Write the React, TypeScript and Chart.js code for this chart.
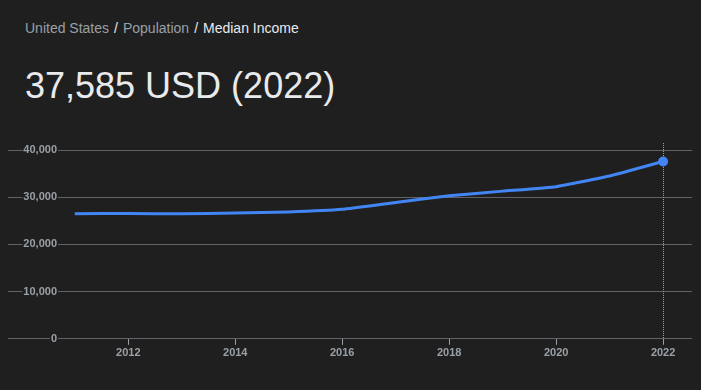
import React, { useEffect, useRef } from "react";
import { Chart, registerables } from "chart.js";

Chart.register(...registerables);

const years = [2011, 2012, 2013, 2014, 2015, 2016, 2017, 2018, 2019, 2020, 2021, 2022];
const medianIncome = [26530, 26560, 26500, 26680, 26900, 27450, 28900, 30300, 31300, 32250, 34500, 37585];
const yTicks = [0, 10000, 20000, 30000, 40000];
const xTicks = [2012, 2014, 2016, 2018, 2020, 2022];
const breadcrumb = ["United States", "Population", "Median Income"];
const headline = "37,585 USD (2022)";

const BG = "#1f1f1f";
const GRID = "#5f6368";
const LABEL = "#9aa0a6";
const BLUE = "#4285f4";

const markerLine = {
  id: "markerLine",
  beforeDatasetsDraw(chart: any) {
    const { ctx, chartArea, scales } = chart;
    const x = Math.round(scales.x.getPixelForValue(years[years.length - 1])) + 0.5;
    ctx.save();
    ctx.strokeStyle = "#9aa0a6";
    ctx.lineWidth = 1;
    ctx.setLineDash([1, 1]);
    ctx.beginPath();
    ctx.moveTo(x, chartArea.top);
    ctx.lineTo(x, chartArea.bottom);
    ctx.stroke();
    ctx.restore();
  },
};

function IncomeChart() {
  const ref = useRef<HTMLCanvasElement | null>(null);
  useEffect(() => {
    if (!ref.current) return;
    const last = medianIncome.length - 1;
    const chart = new Chart(ref.current, {
      type: "line",
      data: {
        datasets: [
          {
            data: years.map((y, i) => ({ x: y, y: medianIncome[i] })),
            borderColor: BLUE,
            backgroundColor: BLUE,
            borderWidth: 3,
            tension: 0.12,
            pointRadius: (c: any) => (c.dataIndex === last ? 5 : 0),
            pointHoverRadius: 5,
            pointBorderWidth: 0,
            fill: false,
          },
        ],
      },
      options: {
        animation: false,
        responsive: false,
        maintainAspectRatio: false,
        layout: { padding: { top: 8, right: 1, left: 0, bottom: 28 } },
        plugins: { legend: { display: false }, tooltip: { enabled: false } },
        events: [],
        scales: {
          x: {
            type: "linear",
            min: 2010.686,
            max: 2022.54,
            afterBuildTicks: (s: any) => {
              s.ticks = xTicks.map((v) => ({ value: v }));
            },
            grid: {
              drawOnChartArea: false,
              drawTicks: true,
              tickLength: 6,
              tickColor: LABEL,
            },
            border: { display: false },
            ticks: {
              color: LABEL,
              font: { family: "'Liberation Sans', Arial, sans-serif", size: 11, weight: "bold" },
              padding: 2,
              maxRotation: 0,
              autoSkip: false,
              callback: (v: any) => String(v),
            },
          },
          y: {
            type: "linear",
            min: 0,
            max: 41500,
            afterBuildTicks: (s: any) => {
              s.ticks = yTicks.map((v) => ({ value: v }));
            },
            afterFit: (s: any) => {
              s.width = 50;
            },
            grid: {
              color: GRID,
              lineWidth: 1,
              drawTicks: true,
              tickLength: 50,
              tickColor: GRID,
            },
            border: { display: false },
            ticks: {
              color: LABEL,
              font: { family: "'Liberation Sans', Arial, sans-serif", size: 11, weight: "bold" },
              padding: -49,
              showLabelBackdrop: true,
              backdropColor: BG,
              backdropPadding: { left: 1, right: 1, top: 0, bottom: 0 },
              callback: (v: any) => Number(v).toLocaleString("en-US"),
            },
          },
        },
      },
      plugins: [markerLine],
    } as any);
    return () => chart.destroy();
  }, []);
  return <canvas ref={ref} width={689} height={255} style={{ display: "block", width: 689, height: 255 }} />;
}

export default function App() {
  const font = "'Liberation Sans', Arial, sans-serif";
  return (
    <div style={{ position: "fixed", inset: 0, background: BG, fontFamily: font }}>
      <div
        style={{
          position: "absolute",
          left: 25,
          top: 21,
          fontSize: 14,
          lineHeight: "14px",
          color: LABEL,
          whiteSpace: "nowrap",
        }}
      >
        {breadcrumb.map((b, i) => (
          <React.Fragment key={b}>
            {i > 0 && <span style={{ color: "#e8eaed", margin: "0 5px" }}>/</span>}
            <span style={{ color: i === breadcrumb.length - 1 ? "#e8eaed" : LABEL }}>{b}</span>
          </React.Fragment>
        ))}
      </div>
      <div
        style={{
          position: "absolute",
          left: 25,
          top: 68,
          fontSize: 36,
          lineHeight: "36px",
          color: "#e8eaed",
          whiteSpace: "nowrap",
        }}
      >
        {headline}
      </div>
      <div style={{ position: "absolute", left: 8, top: 135 }}>
        <IncomeChart />
      </div>
    </div>
  );
}
